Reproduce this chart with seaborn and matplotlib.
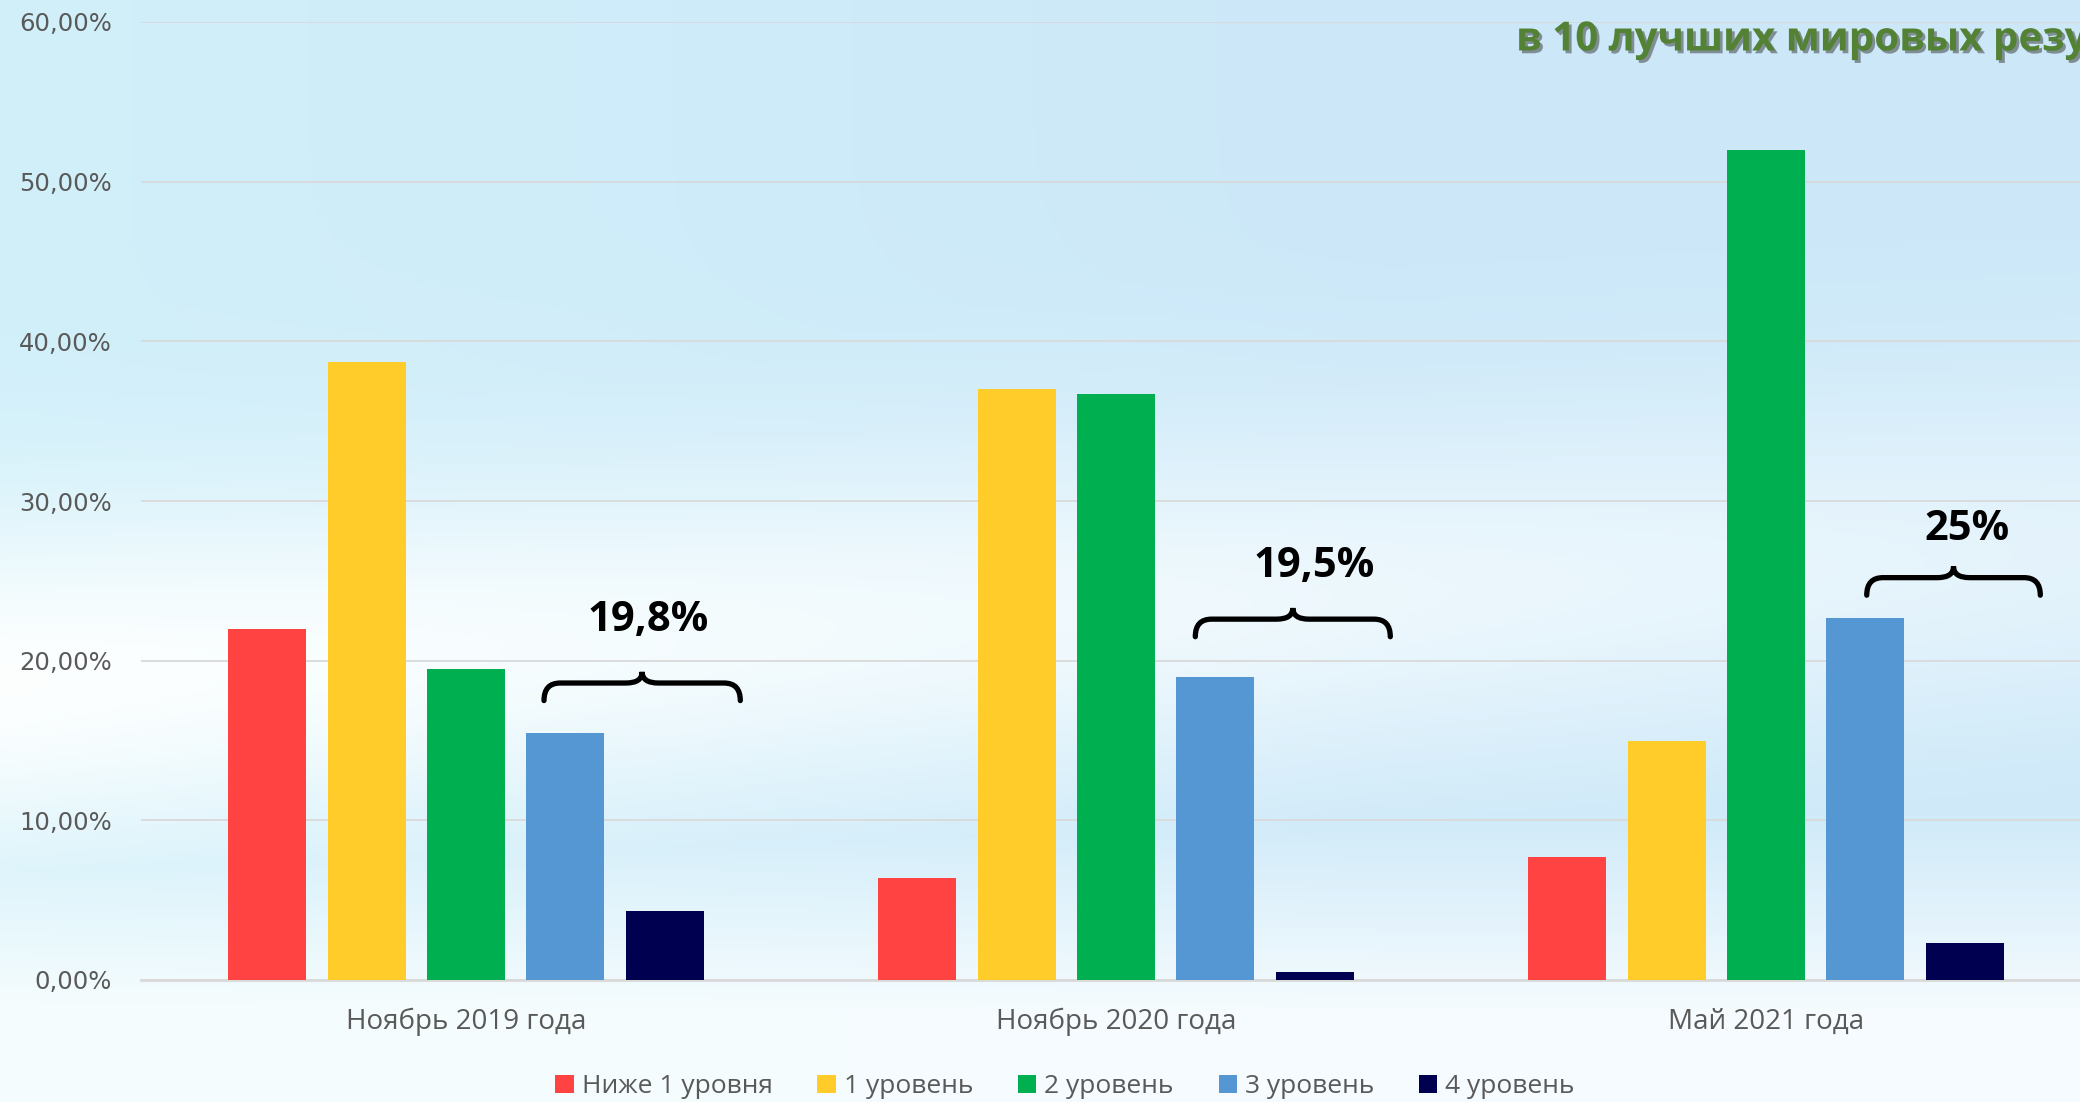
import numpy as np
import pandas as pd
import seaborn as sns
import matplotlib.pyplot as plt
from matplotlib.path import Path
from matplotlib.patches import PathPatch
import matplotlib.patheffects as pe

# данные
periods = ['Ноябрь 2019 года', 'Ноябрь 2020 года', 'Май 2021 года']
levels = ['Ниже 1 уровня', '1 уровень', '2 уровень', '3 уровень', '4 уровень']
below_1 = [22.0, 6.4, 7.7]
level_1 = [38.7, 37.0, 15.0]
level_2 = [19.5, 36.7, 52.0]
level_3 = [15.5, 19.0, 22.7]
level_4 = [4.3, 0.5, 2.3]
sum_labels = ['19,8%', '19,5%', '25%']
colors = ['#FF4343', '#FFCC29', '#00AF50', '#5597D3', '#000050']
title = 'в 10 лучших мировых результатов'

# фигурные скобки (оформление): высота, начало по x, положение подписи
brace_y = [18.6, 22.6, 25.2]
brace_x0 = [0.12, 0.122, 0.155]
label_dx = [0.28, 0.305, 0.31]
label_y = [22.5, 25.9, 28.2]

df = pd.DataFrame({'period': np.repeat(periods, len(levels)),
                   'level': levels * len(periods),
                   'value': np.array([below_1, level_1, level_2, level_3, level_4]).T.ravel()})

sns.set_theme(style='white')
plt.rcParams['font.family'] = ['Open Sans', 'DejaVu Sans']

fig = plt.figure(figsize=(20.8, 11.02), dpi=100)

# фон
bg = fig.add_axes([0, 0, 1, 1], zorder=-10)
yy, xx = np.mgrid[0:1:300j, 0:1:560j]
sky = np.array([0.80, 0.91, 0.975])
cyan = np.array([0.82, 0.94, 0.98])
band = np.exp(-((yy - (0.62 - 0.12 * xx)) / 0.16) ** 2)
low = np.clip((yy - 0.72) / 0.2, 0, 1)
white = np.clip(np.maximum(band * (1.0 - 0.5 * xx), low * 0.85), 0, 1)
mixw = np.clip(1 - xx * 1.5, 0, 1)[..., None]
base = cyan * mixw + sky * (1 - mixw)
img = base * (1 - white[..., None]) + np.array([0.99, 1.0, 1.0]) * white[..., None]
bg.imshow(img, aspect='auto', extent=[0, 1, 0, 1])
bg.axis('off')

ax = fig.add_axes([141 / 2080, 122 / 1102, 1950 / 2080, 958 / 1102])
ax.patch.set_alpha(0)
sns.barplot(data=df, x='period', y='value', hue='level', palette=colors,
            width=0.765, gap=0.215, saturation=1, linewidth=0, edgecolor='none',
            ax=ax, zorder=3)

ax.set_xlim(-0.5, 2.5)
ax.set_ylim(0, 60)
ax.set_yticks(range(0, 61, 10))
ax.set_yticklabels([f'{v:.2f}%'.replace('.', ',') for v in range(0, 61, 10)],
                   family='DejaVu Sans', fontsize=17.5, color='#595959')
ax.set_xticks(range(len(periods)))
ax.set_xticklabels(periods, fontsize=20, color='#595959')
ax.tick_params(axis='y', length=0, pad=21)
ax.tick_params(axis='x', length=0, pad=20)
ax.set_xlabel('')
ax.set_ylabel('')
ax.yaxis.grid(True, color='#D9D9D9', lw=1.3, zorder=0)
ax.set_axisbelow(True)
for s in ['top', 'right', 'left']:
    ax.spines[s].set_visible(False)
ax.spines['bottom'].set_color('#D9D9D9')
ax.spines['bottom'].set_linewidth(2)


def brace(x0, x1, y, h=1.1, tip=0.7):
    xm = (x0 + x1) / 2
    r = 0.025
    verts = [(x0, y - h), (x0, y), (x0 + r, y),
             (xm - r, y), (xm, y), (xm, y + tip),
             (xm, y), (xm + r, y),
             (x1 - r, y), (x1, y), (x1, y - h)]
    codes = [Path.MOVETO, Path.CURVE3, Path.CURVE3,
             Path.LINETO, Path.CURVE3, Path.CURVE3,
             Path.CURVE3, Path.CURVE3,
             Path.LINETO, Path.CURVE3, Path.CURVE3]
    ax.add_patch(PathPatch(Path(verts, codes), fill=False, lw=3.8, color='black',
                           capstyle='round', zorder=5, clip_on=False))


for i, lab in enumerate(sum_labels):
    brace(i + brace_x0[i], i + 0.422, brace_y[i])
    ax.text(i + label_dx[i], label_y[i], lab, ha='center', va='center',
            fontsize=30, fontweight='bold', color='black')

sns.move_legend(ax, 'center', bbox_to_anchor=(0.512, 0.014), bbox_transform=fig.transFigure,
                ncol=5, frameon=False, title=None, fontsize=19,
                handlelength=0.7, handleheight=0.7, handletextpad=0.3, columnspacing=1.7)
for t in ax.get_legend().get_texts():
    t.set_color('#595959')

fig.text(1516 / 2080, 1 - 40 / 1102, title, ha='left', va='center', fontsize=29,
         fontweight='bold', color='#548235',
         path_effects=[pe.withSimplePatchShadow(offset=(2, -2), shadow_rgbFace='#333333', alpha=0.5)])

fig.savefig('out.png', dpi=100)
